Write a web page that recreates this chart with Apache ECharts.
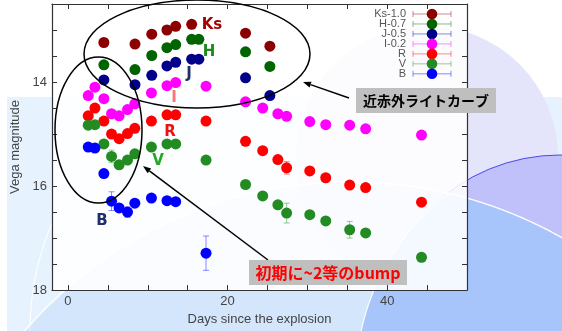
<!DOCTYPE html>
<html><head><meta charset="utf-8">
<script src="https://cdn.jsdelivr.net/npm/echarts@6/dist/echarts.min.js"></script>
<style>html,body{margin:0;padding:0;background:#fff}#c{width:562px;height:331px}</style>
</head><body><div id="c"></div>
<script>
// ---- data (displayed values, offsets already applied as in legend) ----
const seriesNames = ['Ks-1.0','H-0.7','J-0.5','I-0.2','R','V','B'];
const bandLabels = ['Ks','H','J','I','R','V','B'];
const xTickLabels = [0, 20, 40];
const yTickLabels = [14, 16, 18];

const ksDays = [4.5, 8.4, 10.5, 12.4, 13.5, 15.5, 22.25, 25.3];
const ksMag  = [13.24, 13.27, 13.08, 13.00, 12.93, 12.89, 13.06, 13.31];
const nirDays = [4.5, 8.4, 10.5, 12.4, 13.5, 15.5, 16.4, 22.25, 25.3];
const hMag  = [13.67, 13.76, 13.49, 13.34, 13.28, 13.18, 13.18, 13.42, 13.70];
const jMag  = [13.96, 14.05, 13.87, 13.69, 13.62, 13.56, 13.56, 13.92, 14.26];

const optDays = [2.54, 3.38, 4.5, 5.46, 6.41, 7.46, 8.38, 10.46, 12.41, 13.5, 17.3, 22.25, 24.4, 26.3, 27.4, 30.3, 32.3, 35.3, 37.3, 44.3];
const iMag = [14.26, 14.10, 14.32, 14.61, 14.65, 14.53, 14.42, 14.21, 14.07, 14.01, 14.08, 14.38, 14.50, 14.61, 14.66, 14.76, 14.82, 14.83, 14.90, 15.02];
const rMag = [14.65, 14.50, 14.75, 15.00, 15.09, 14.99, 14.89, 14.75, 14.63, 14.63, 14.75, 15.14, 15.32, 15.49, 15.65, 15.71, 15.84, 15.98, 16.03, 16.31];
const rErr = [0,0,0,0,0,0,0,0,0,0,0,0,0,0,0.12,0,0,0,0,0];
const vMag = [14.83, 14.82, 15.19, 15.43, 15.59, 15.50, 15.38, 15.25, 15.19, 15.19, 15.50, 15.97, 16.19, 16.36, 16.52, 16.55, 16.67, 16.84, 16.90, 17.37];
const vErr = [0,0,0,0.12,0,0,0,0,0,0,0,0,0,0,0.19,0,0,0.16,0,0];
const bDays = [2.54, 3.38, 4.5, 5.46, 6.41, 7.46, 8.38, 10.46, 12.41, 13.5, 17.3];
const bMag = [15.25, 15.27, 15.76, 16.29, 16.42, 16.50, 16.33, 16.23, 16.28, 16.30, 17.29];
const bErr = [0,0,0,0.18,0,0.1,0,0,0,0,0.33];

// ---- styling ----
const colors = ['#8b0000','#006400','#00008b','#ff00ff','#ff0000','#228b22','#0000ff'];
const errColors = ['rgba(139,0,0,0.45)','rgba(0,100,0,0.45)','rgba(0,0,139,0.45)','rgba(255,0,255,0.45)','rgba(255,0,0,0.45)','rgba(34,139,34,0.45)','rgba(0,0,255,0.45)'];

const bandData = [
  [ksDays, ksMag, null], [nirDays, hMag, null], [nirDays, jMag, null],
  [optDays, iMag, null], [optDays, rMag, rErr], [optDays, vMag, vErr], [bDays, bMag, bErr]
];

function errRender(color){
  return function(params, api){
    const x = api.value(0), y = api.value(1), e = api.value(2);
    const p1 = api.coord([x, y - e]), p2 = api.coord([x, y + e]);
    const c = 3;
    const st = {stroke: color, lineWidth: 1};
    return {type:'group', children:[
      {type:'line', shape:{x1:p1[0],y1:p1[1],x2:p2[0],y2:p2[1]}, style:st},
      {type:'line', shape:{x1:p1[0]-c,y1:p1[1],x2:p1[0]+c,y2:p1[1]}, style:st},
      {type:'line', shape:{x1:p2[0]-c,y1:p2[1],x2:p2[0]+c,y2:p2[1]}, style:st}
    ]};
  };
}

const series = [];
bandData.forEach(function(b, k){
  const days = b[0], mags = b[1], errs = b[2];
  if (errs) {
    const ed = [];
    days.forEach(function(d, i){ if (errs[i] > 0) ed.push([d, mags[i], errs[i]]); });
    series.push({type:'custom', renderItem: errRender(errColors[k]), data: ed, encode:{x:0,y:1}, z:2, silent:true});
  }
  series.push({
    type:'scatter', name: seriesNames[k], symbol:'circle', symbolSize:11,
    itemStyle:{color: colors[k], opacity:1},
    data: days.map(function(d, i){ return [d, mags[i]]; }), z:3
  });
});

// ---- graphics ----
const G = [];
// background decoration (slide artwork)
function lens(c1, c2){
  const pts = [];
  for (let k = 0; k < 1440; k++) {
    const t = k / 1440 * 2 * Math.PI;
    [[c1, c2], [c2, c1]].forEach(function(pq){
      const p = pq[0], q = pq[1];
      const x = p[0] + p[2] * Math.cos(t), y = p[1] + p[2] * Math.sin(t);
      if (Math.hypot(x - q[0], y - q[1]) <= q[2]) pts.push([x, y]);
    });
  }
  let mx = 0, my = 0;
  pts.forEach(function(p){ mx += p[0]; my += p[1]; });
  mx /= pts.length; my /= pts.length;
  pts.sort(function(a, b){ return Math.atan2(a[1]-my, a[0]-mx) - Math.atan2(b[1]-my, b[0]-mx); });
  return pts;
}
const cA = [350, 612, 430], cB = [590, 380, 234];
G.push({type:'rect', shape:{x:7,y:97,width:555,height:234}, style:{fill:'#e6f2fd'}, z:-100});
G.push({type:'circle', shape:{cx:300,cy:330,r:270}, style:{fill:'none', stroke:'rgba(255,255,255,0.9)', lineWidth:1.2}, z:-99});
G.push({type:'circle', shape:{cx:427,cy:157,r:131}, style:{fill:'#e4e4fb'}, z:-98});
G.push({type:'circle', shape:{cx:560,cy:340,r:185}, style:{fill:'#c0c0fa', stroke:'#4a4aee', lineWidth:1}, z:-97});
G.push({type:'circle', shape:{cx:cA[0],cy:cA[1],r:cA[2]}, style:{fill:'rgba(150,188,250,0.22)', stroke:'rgba(255,255,255,0.95)', lineWidth:1.5}, z:-96});
G.push({type:'polygon', shape:{points: lens(cA, cB)}, style:{fill:'#a7c5fb', stroke:'rgba(255,255,255,0.9)', lineWidth:1.2}, z:-95});

// legend
seriesNames.forEach(function(n, i){
  const y = 14 + i * 9.97;
  G.push({type:'text', style:{text:n, x:406, y:y, textAlign:'right', textVerticalAlign:'middle', font:'11px "Liberation Sans"', fill:'#555'}, z:50});
  const st = {stroke: errColors[i], lineWidth:1};
  G.push({type:'line', shape:{x1:413,y1:y,x2:451,y2:y}, style:st, z:50});
  G.push({type:'line', shape:{x1:413,y1:y-3,x2:413,y2:y+3}, style:st, z:50});
  G.push({type:'line', shape:{x1:451,y1:y-3,x2:451,y2:y+3}, style:st, z:50});
  G.push({type:'circle', shape:{cx:432,cy:y,r:5.3}, style:{fill: colors[i]}, z:51});
});

// ellipses
G.push({type:'ellipse', shape:{cx:197,cy:54,rx:113,ry:54}, style:{fill:'none', stroke:'#000', lineWidth:1.5}, z:100});
G.push({type:'ellipse', shape:{cx:98.5,cy:130,rx:43.5,ry:73}, style:{fill:'none', stroke:'#000', lineWidth:1.5}, z:100});

function arrow(x1,y1,x2,y2){
  const dx=x2-x1, dy=y2-y1, L=Math.hypot(dx,dy), ux=dx/L, uy=dy/L;
  const hl=8, hw=3;
  const bx=x2-ux*hl, by=y2-uy*hl;
  G.push({type:'line', shape:{x1:x1,y1:y1,x2:bx,y2:by}, style:{stroke:'#000', lineWidth:1.5}, z:100});
  G.push({type:'polygon', shape:{points:[[x2,y2],[bx-uy*hw,by+ux*hw],[bx+uy*hw,by-ux*hw]]}, style:{fill:'#000'}, z:100});
}
arrow(349,98,303,82);
arrow(268,260,143,166);

// note boxes
G.push({type:'rect', shape:{x:356,y:88,width:140,height:25}, style:{fill:'#bfbfbf'}, z:101});
G.push({type:'text', style:{text:'近赤外ライトカーブ', x:426, y:101, textAlign:'center', textVerticalAlign:'middle', font:'bold 14px "Noto Sans CJK JP"', fill:'#000'}, z:102});
G.push({type:'rect', shape:{x:249,y:260,width:158,height:25}, style:{fill:'#bfbfbf'}, z:101});
G.push({type:'text', style:{text:'初期に~2等のbump', x:328, y:273, textAlign:'center', textVerticalAlign:'middle', font:'bold 16px "Noto Sans CJK JP"', fill:'#ff0000'}, z:102});

// band labels
const bandLabelPos = [[212,25],[209,52],[189,74],[174,98],[170,132],[158,161],[102,221]];
const bandLabelColors = ['#a40000','#1a8a1a','#1f2f6e','#ff7373','#ee1111','#22aa22','#1f2f6e'];
bandLabels.forEach(function(t, i){
  G.push({type:'text', style:{text:t, x:bandLabelPos[i][0], y:bandLabelPos[i][1], textAlign:'center', textVerticalAlign:'middle', font:'bold 15px "DejaVu Sans"', fill:bandLabelColors[i]}, z:100});
});

const axisLine = {show:true, onZero:false, lineStyle:{color:'#333', width:1.2}};
const xTicks = [0,5,10,15,20,25,30,35,40,45];
const yTicks = [13,13.5,14,14.5,15,15.5,16,16.5,17,17.5];
const txt = {color:'#444', fontSize:13, fontFamily:'Liberation Sans'};

const chart = echarts.init(document.getElementById('c'), null, {renderer:'canvas'});
chart.setOption({
  animation:false,
  backgroundColor:'transparent',
  grid:{left:52, right:95, top:4, bottom:37, show:true, backgroundColor:'rgba(255,255,255,0.88)', borderWidth:0},
  xAxis:[
    {type:'value', min:-2, max:50, position:'bottom', axisLine:axisLine,
     axisTick:{show:true, inside:true, length:5, customValues:xTicks, lineStyle:{color:'#333'}},
     axisLabel:Object.assign({customValues:xTickLabels, margin:5}, txt),
     splitLine:{show:false},
     name:'Days since the explosion', nameLocation:'middle', nameGap:21, nameTextStyle:txt},
    {type:'value', min:-2, max:50, position:'top', axisLine:axisLine,
     axisTick:{show:true, inside:true, length:5, customValues:xTicks, lineStyle:{color:'#333'}},
     axisLabel:{show:false}, splitLine:{show:false}}
  ],
  yAxis:[
    {type:'value', inverse:true, min:12.5, max:18, position:'left', axisLine:axisLine,
     axisTick:{show:true, inside:true, length:5, customValues:yTicks, lineStyle:{color:'#333'}},
     axisLabel:Object.assign({customValues:yTickLabels, margin:5}, txt),
     splitLine:{show:false},
     name:'Vega magnitude', nameLocation:'middle', nameGap:25, nameTextStyle:txt},
    {type:'value', inverse:true, min:12.5, max:18, position:'right', axisLine:axisLine,
     axisTick:{show:true, inside:true, length:5, customValues:yTicks, lineStyle:{color:'#333'}},
     axisLabel:{show:false}, splitLine:{show:false}}
  ],
  series: series,
  graphic: G
});
</script></body></html>
